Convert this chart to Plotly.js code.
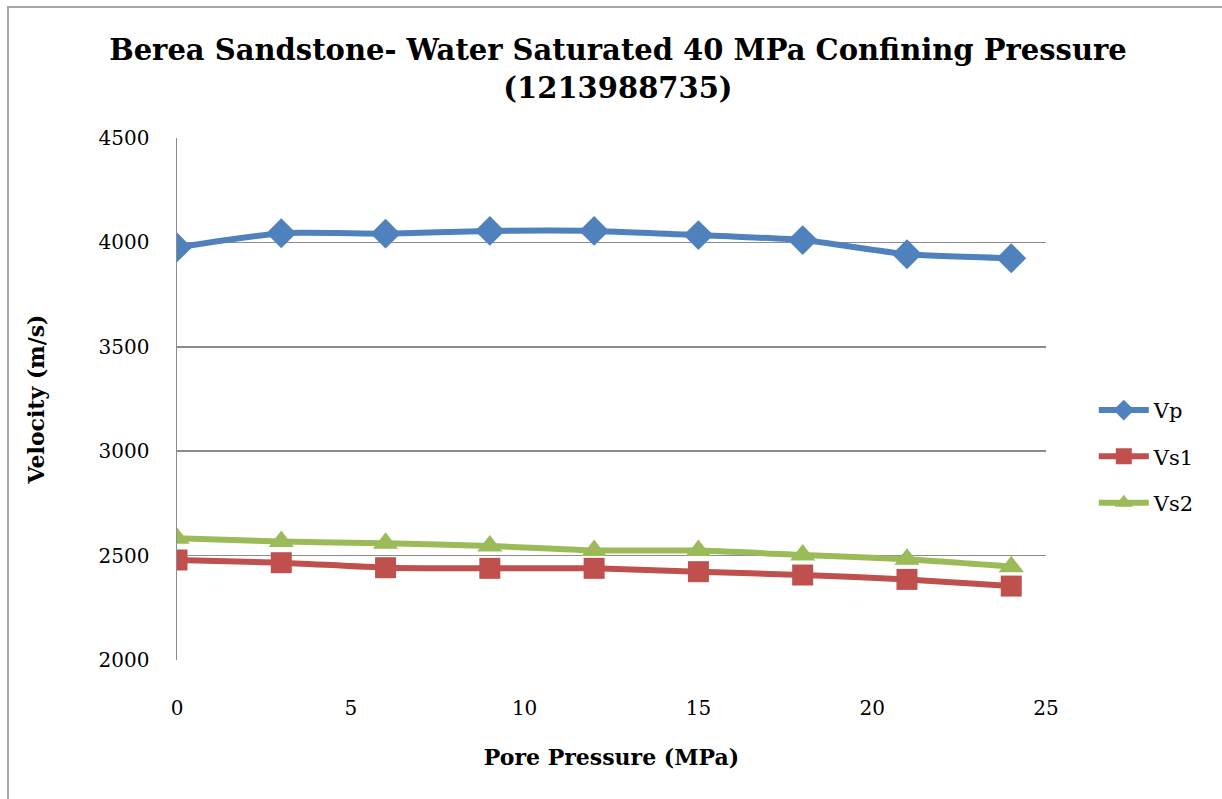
<!DOCTYPE html>
<html>
<head>
<meta charset="utf-8">
<script src="https://cdn.plot.ly/plotly-3.0.1.min.js"></script>
<style>
html,body{margin:0;padding:0;background:#fff;}
#wrap{position:relative;width:1222px;height:799px;overflow:hidden;}
#chart{position:absolute;left:0;top:0;width:1222px;height:799px;}
#frame{position:absolute;left:7px;top:6px;width:1300px;height:900px;border-left:2px solid #a6a6a6;border-top:2px solid #a6a6a6;pointer-events:none;}
</style>
</head>
<body>
<div id="wrap"><div id="chart"></div><div id="frame"></div></div>
<script>
const porePressure = [0, 3, 6, 9, 12, 15, 18, 21, 24];
const vp  = [3976, 4044, 4042, 4055, 4055, 4035, 4011, 3943, 3924];
const vs1 = [2479, 2466, 2442, 2439, 2439, 2423, 2407, 2386, 2354];
const vs2 = [2583, 2567, 2559, 2546, 2525, 2524, 2503, 2482, 2447];
const seriesNames = ["Vp", "Vs1", "Vs2"];
const xTicks = [0, 5, 10, 15, 20, 25];
const yTicks = [2000, 2500, 3000, 3500, 4000, 4500];

const serif = "DejaVu Serif, Liberation Serif, serif";
function tr(y, name, color, symbol, size, grp){
  return {x: porePressure, y: y, name: name, type: "scatter", mode: "lines+markers",
    legendgroup: grp,
    line: {color: color, width: 6, shape: "spline", smoothing: 0.5},
    marker: {color: color, symbol: symbol, size: size}};
}
const data = [
  tr(vs2, seriesNames[2], "#9BBB59", "triangle-up", 22, "c"),
  tr(vs1, seriesNames[1], "#C0504D", "square", 21, "b"),
  tr(vp,  seriesNames[0], "#4F81BD", "diamond", 23, "a")
];
data[0].legendrank = 3; data[1].legendrank = 2; data[2].legendrank = 1;

const layout = {
  width: 1222, height: 799,
  paper_bgcolor: "#fff", plot_bgcolor: "#fff",
  margin: {l: 177, r: 176, t: 138, b: 139},
  title: {text: "Berea Sandstone- Water Saturated 40 MPa Confining Pressure<br>(1213988735)",
    font: {family: serif, size: 29, color: "#000", weight: "bold"},
    x: 0.5057, xanchor: "center", y: 0.925, yanchor: "top"},
  xaxis: {range: [0, 25], tickvals: xTicks, ticktext: xTicks.map(String),
    showgrid: false, zeroline: false, showline: false,
    ticks: "outside", ticklen: 30, tickcolor: "rgba(0,0,0,0)",
    tickfont: {family: serif, size: 20, color: "#000"},
    title: {text: "Pore Pressure (MPa)", standoff: 30,
      font: {family: serif, size: 22, color: "#000", weight: "bold"}}},
  yaxis: {range: [2000, 4500], tickvals: yTicks, ticktext: yTicks.map(String),
    showgrid: true, gridcolor: "#8c8c8c", gridwidth: 1.5, zeroline: false,
    showline: true, linecolor: "#8c8c8c", linewidth: 1.5,
    ticks: "outside", ticklen: 22, tickcolor: "rgba(0,0,0,0)",
    tickfont: {family: serif, size: 20, color: "#000"},
    title: {text: "Velocity (m/s)", standoff: 48,
      font: {family: serif, size: 22, color: "#000", weight: "bold"}}},
  showlegend: true,
  legend: {x: 1.055, xanchor: "left", y: 0.39, yanchor: "middle",
    font: {family: serif, size: 21, color: "#000"}, tracegroupgap: 16,
    itemwidth: 50, bgcolor: "rgba(0,0,0,0)"}
};
Plotly.newPlot("chart", data, layout, {displayModeBar: false, staticPlot: true});
</script>
</body>
</html>
